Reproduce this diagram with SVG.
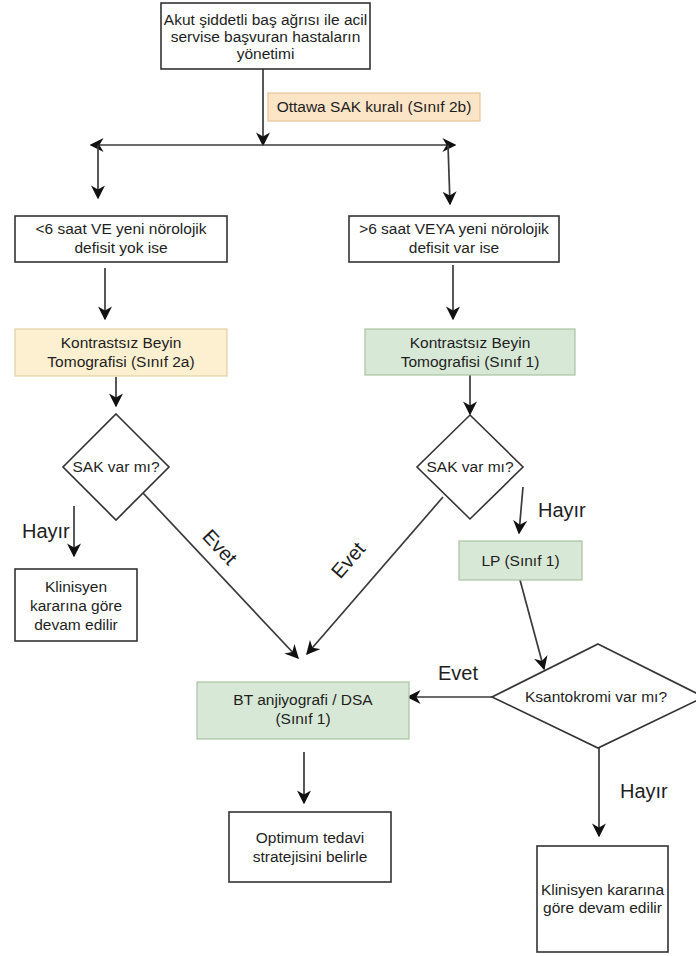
<svg xmlns="http://www.w3.org/2000/svg" width="696" height="956" viewBox="0 0 696 956">
<style>
  text { font-family: "Liberation Sans", Arial, Helvetica, sans-serif; fill: #1e1e1e; }
  .t { font-size: 15.5px; text-anchor: middle; }
  .lbl { font-size: 20px; }
  .box { fill: #fff; stroke: #333; stroke-width: 1.6; }
  .orange { fill: #fce4c7; stroke: #e8c597; stroke-width: 1.2; }
  .yellow { fill: #fdf0d0; stroke: #e2d0a2; stroke-width: 1.2; }
  .green { fill: #d8e8d6; stroke: #a9c3a0; stroke-width: 1.2; }
  .edge { fill: none; stroke: #3a3a3a; stroke-width: 1.7; marker-end: url(#arr); }
</style>
<defs>
  <marker id="arr" viewBox="0 0 10 10" refX="9" refY="5" markerWidth="14" markerHeight="14" markerUnits="userSpaceOnUse" orient="auto-start-reverse">
    <path d="M0,0 L10,5 L0,10 L3,5 Z" fill="#111"/>
  </marker>
</defs>
<rect width="696" height="956" fill="#fff"/>

<g id="connectors">
  <line class="edge" x1="263" y1="69" x2="263" y2="145"/>
  <line class="edge" x1="91" y1="145" x2="455" y2="145" style="marker-start:url(#arr)"/>
  <line class="edge" x1="98" y1="145" x2="98" y2="198"/>
  <line class="edge" x1="448" y1="145" x2="450" y2="204"/>
  <line class="edge" x1="105" y1="268" x2="105" y2="319"/>
  <line class="edge" x1="453" y1="265" x2="453" y2="319"/>
  <line class="edge" x1="116" y1="377" x2="116" y2="406"/>
  <line class="edge" x1="470" y1="375" x2="470" y2="414"/>
  <line class="edge" x1="74" y1="506" x2="74" y2="556"/>
  <line class="edge" x1="143" y1="493" x2="298" y2="658"/>
  <line class="edge" x1="443" y1="497" x2="307" y2="654"/>
  <line class="edge" x1="523" y1="487" x2="519" y2="533"/>
  <line class="edge" x1="520" y1="580" x2="544" y2="669"/>
  <line class="edge" x1="492" y1="697" x2="408" y2="697"/>
  <line class="edge" x1="304" y1="752" x2="304" y2="803"/>
  <line class="edge" x1="599" y1="748" x2="599" y2="836"/>
  <text class="lbl" x="22" y="538">Hayır</text>
  <text class="lbl" text-anchor="middle" transform="translate(220,547) rotate(47)" y="7">Evet</text>
  <text class="lbl" text-anchor="middle" transform="translate(348,560) rotate(-49)" y="7">Evet</text>
  <text class="lbl" x="538" y="517">Hayır</text>
  <text class="lbl" x="438" y="680">Evet</text>
  <text class="lbl" x="620" y="798">Hayır</text>
</g>

<g id="start">
  <rect class="box" x="161" y="3" width="209" height="66"/>
  <text class="t" x="265.5" y="25">Akut şiddetli baş ağrısı ile acil</text>
  <text class="t" x="265.5" y="42">servise başvuran hastaların</text>
  <text class="t" x="265.5" y="59">yönetimi</text>
</g>

<g id="ottawa">
  <rect class="orange" x="268" y="93" width="212" height="28"/>
  <text class="t" x="374" y="112">Ottawa SAK kuralı (Sınıf 2b)</text>
</g>

<g id="lt6">
  <rect class="box" x="15" y="216" width="212" height="46"/>
  <text class="t" x="121" y="234">&lt;6 saat VE yeni nörolojik</text>
  <text class="t" x="121" y="253">defisit yok ise</text>
</g>

<g id="gt6">
  <rect class="box" x="349" y="216" width="210" height="46"/>
  <text class="t" x="454" y="234">&gt;6 saat VEYA yeni nörolojik</text>
  <text class="t" x="454" y="253">defisit var ise</text>
</g>

<g id="ct2a">
  <rect class="yellow" x="15" y="329" width="212" height="47"/>
  <text class="t" x="121" y="348">Kontrastsız Beyin</text>
  <text class="t" x="121" y="367">Tomografisi (Sınıf 2a)</text>
</g>

<g id="ct1">
  <rect class="green" x="365" y="329" width="210" height="46"/>
  <text class="t" x="470" y="348">Kontrastsız Beyin</text>
  <text class="t" x="470" y="367">Tomografisi (Sınıf 1)</text>
</g>

<g id="sakL">
  <polygon class="box" points="116,414 169,467 116,520 63,467"/>
  <text class="t" x="116" y="472">SAK var mı?</text>
</g>

<g id="sakR">
  <polygon class="box" points="470,415 523,467 470,519 417,467"/>
  <text class="t" x="470" y="472">SAK var mı?</text>
</g>

<g id="klinL">
  <rect class="box" x="15" y="569" width="122" height="72"/>
  <text class="t" x="76" y="592">Klinisyen</text>
  <text class="t" x="76" y="611">kararına göre</text>
  <text class="t" x="76" y="630">devam edilir</text>
</g>

<g id="lp">
  <rect class="green" x="459" y="541" width="123" height="39"/>
  <text class="t" x="520.5" y="566">LP (Sınıf 1)</text>
</g>

<g id="ksant">
  <polygon class="box" points="598,644 704,697 598,748 492,697"/>
  <text class="t" x="596" y="702">Ksantokromi var mı?</text>
</g>

<g id="bt">
  <rect class="green" x="197" y="682" width="212" height="57"/>
  <text class="t" x="303" y="705">BT anjiyografi / DSA</text>
  <text class="t" x="303" y="724">(Sınıf 1)</text>
</g>

<g id="optimum">
  <rect class="box" x="229" y="812" width="162" height="70"/>
  <text class="t" x="310" y="843">Optimum tedavi</text>
  <text class="t" x="310" y="862">stratejisini belirle</text>
</g>

<g id="klinR">
  <rect class="box" x="537" y="846" width="131" height="106"/>
  <text class="t" x="602.5" y="895">Klinisyen kararına</text>
  <text class="t" x="602.5" y="913">göre devam edilir</text>
</g>
</svg>
